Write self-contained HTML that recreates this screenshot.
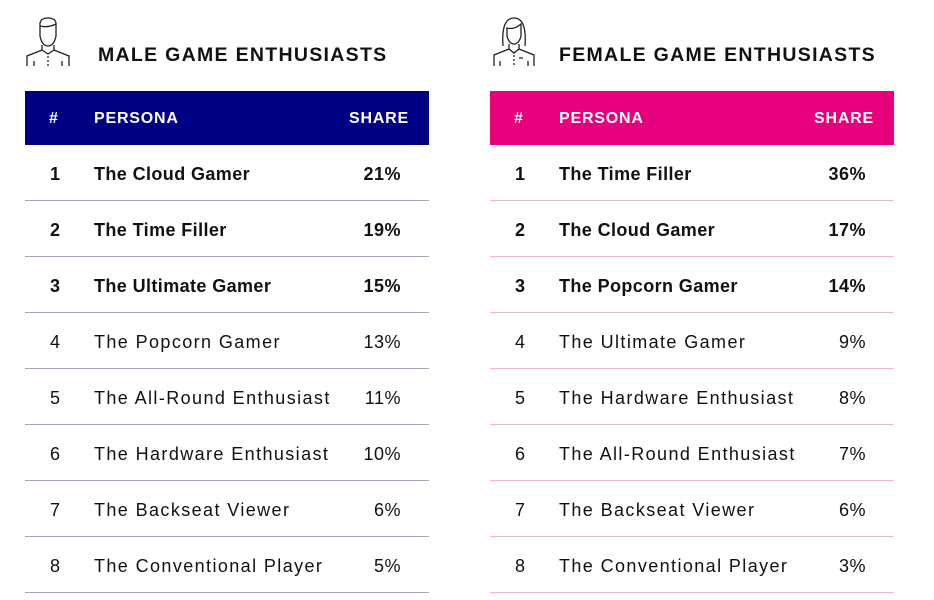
<!DOCTYPE html>
<html><head><meta charset="utf-8"><style>
body{margin:0;width:934px;height:600px;background:#fff;position:relative;overflow:hidden;font-family:"Liberation Sans",sans-serif;color:#111;}
.t{position:absolute;white-space:nowrap;}
.title{font-weight:bold;font-size:19.5px;letter-spacing:1.3px;top:44px;}
.hdr{position:absolute;top:91px;height:54px;width:404px;}
.h{position:absolute;top:110px;color:#fff;font-weight:bold;font-size:16px;letter-spacing:0.8px;}
.line{position:absolute;height:1px;width:404px;}
.r{position:absolute;font-size:18px;letter-spacing:1.4px;}
.b{font-weight:bold;letter-spacing:0.4px;}
.n{width:30px;text-align:center;letter-spacing:0;}
.s{width:80px;text-align:right;letter-spacing:0.5px;}
</style></head><body>
<svg style="position:absolute;left:25px;top:16px" width="46" height="52" viewBox="0 0 46 52" fill="none" stroke="#222" stroke-width="1.3">
<path d="M15 10 Q14 2 23 2 Q32 2 31 10 L31 20 Q29 30 23 30 Q17 30 15 20 Z"/><path d="M15 10 Q23 12 31 8"/>
<path d="M17 29 L17 34 L2 40 L2 50 M29 29 L29 34 L44 40 L44 50"/><path d="M17 34 L23 38 L29 34"/><path d="M23 40 L23 50" stroke-dasharray="2 2"/><path d="M9 45 V50 M37 45 V50"/></svg>
<svg style="position:absolute;left:491px;top:16px" width="46" height="52" viewBox="0 0 46 52" fill="none" stroke="#222" stroke-width="1.3">
<path d="M12 30 Q10 2 23 2 Q36 2 34 30"/><path d="M16 12 Q23 14 30 8 L30 20 Q28 28 23 28 Q18 28 16 20 Z"/>
<path d="M18 28 L18 33 L3 39 L3 50 M28 28 L28 33 L43 39 L43 50"/><path d="M18 33 L23 37 L28 33"/><path d="M23 39 L23 50" stroke-dasharray="2 2"/><path d="M28 42 H32 M9 45 V50 M37 45 V50"/></svg>
<div class="t title" style="left:98px">MALE GAME ENTHUSIASTS</div>
<div class="t title" style="left:559px">FEMALE GAME ENTHUSIASTS</div>
<div class="hdr" style="left:25px;background:#010185"></div>
<div class="hdr" style="left:490px;background:#e6007e"></div>
<div class="h" style="left:49px">#</div><div class="h" style="left:94px">PERSONA</div><div class="h" style="left:349px">SHARE</div>
<div class="h" style="left:514px">#</div><div class="h" style="left:559px">PERSONA</div><div class="h" style="left:814px">SHARE</div>
<div id="rows"></div>
<script>
var m=[["The Cloud Gamer","21%"],["The Time Filler","19%"],["The Ultimate Gamer","15%"],["The Popcorn Gamer","13%"],["The All-Round Enthusiast","11%"],["The Hardware Enthusiast","10%"],["The Backseat Viewer","6%"],["The Conventional Player","5%"]];
var f=[["The Time Filler","36%"],["The Cloud Gamer","17%"],["The Popcorn Gamer","14%"],["The Ultimate Gamer","9%"],["The Hardware Enthusiast","8%"],["The All-Round Enthusiast","7%"],["The Backseat Viewer","6%"],["The Conventional Player","3%"]];
var h="";
function tbl(d,x,lc){for(var i=0;i<8;i++){var top=164+56*i;var b=i<3?" b":"";
h+='<div class="r n'+b+'" style="left:'+(x+15)+'px;top:'+top+'px">'+(i+1)+'</div>';
h+='<div class="r'+b+'" style="left:'+(x+69)+'px;top:'+top+'px">'+d[i][0]+'</div>';
h+='<div class="r s'+b+'" style="left:'+(x+296)+'px;top:'+top+'px">'+d[i][1]+'</div>';
h+='<div class="line" style="left:'+x+'px;top:'+(200+56*i)+'px;background:'+lc+'"></div>';}}
tbl(m,25,"#a4a4b8");tbl(f,490,"#efb6d6");
document.getElementById("rows").innerHTML=h;
</script>
</body></html>
